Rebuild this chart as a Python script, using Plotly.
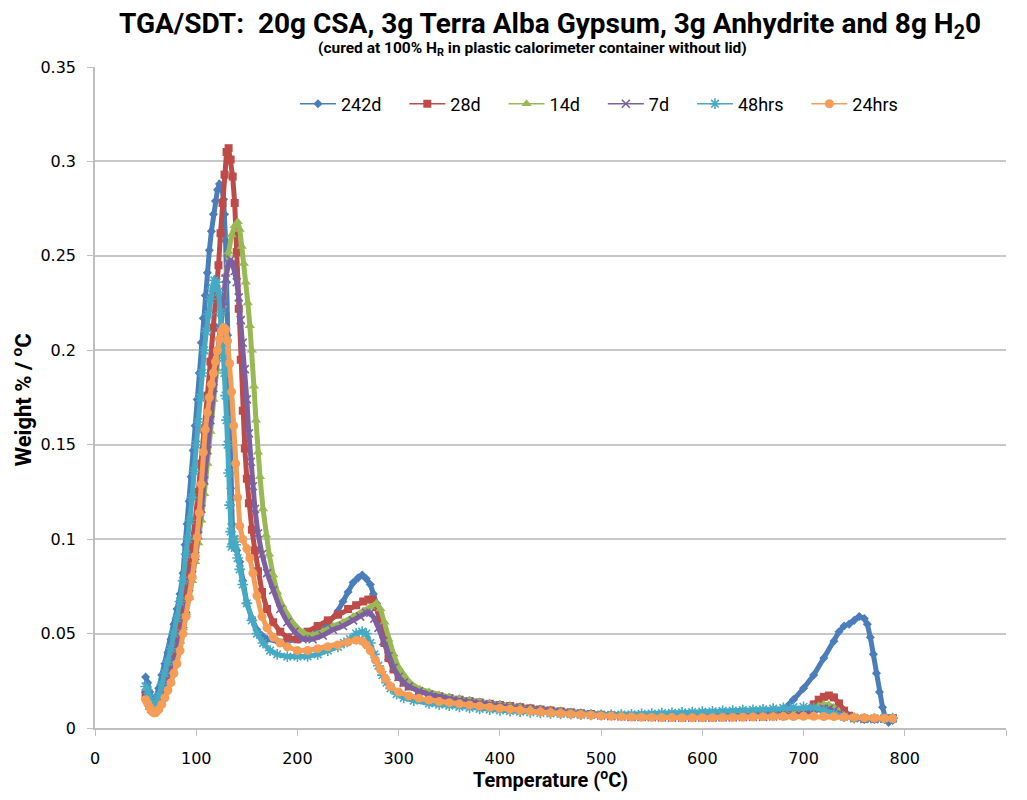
import plotly.graph_objects as go

# ---------------- data ----------------
series_names = ["242d", "28d", "14d", "7d", "48hrs", "24hrs"]

t_242d = [50,52,54,56,58,60,63,66,69,72,75,78,81,84,87,89,91,93,95,97,99,101,103,105,107,109,111,113,115,117,119,121,123,125,127,128,129,130,131,132,133,134,135,136,138,140,143,146,150,155,160,165,170,180,190,200,210,220,230,240,245,250,255,260,264,268,272,275,278,281,285,290,295,300,310,320,330,340,350,360,370,380,390,400,410,420,430,440,450,460,470,480,490,500,510,520,530,540,550,560,570,580,590,600,610,620,630,640,650,660,670,680,690,700,710,720,730,735,740,745,750,755,760,763,766,769,772,775,778,781,784,788]
v_242d = [0.027,0.024,0.019,0.016,0.015,0.016,0.021,0.028,0.034,0.040,0.047,0.055,0.063,0.071,0.082,0.097,0.108,0.120,0.133,0.147,0.160,0.174,0.188,0.204,0.217,0.229,0.241,0.253,0.263,0.272,0.279,0.285,0.288,0.287,0.280,0.272,0.258,0.236,0.208,0.180,0.152,0.127,0.108,0.099,0.096,0.094,0.088,0.078,0.066,0.058,0.052,0.049,0.047,0.046,0.046,0.047,0.048,0.051,0.055,0.062,0.067,0.072,0.077,0.0795,0.081,0.079,0.076,0.071,0.066,0.061,0.051,0.040,0.033,0.028,0.023,0.020,0.0185,0.0172,0.0162,0.0153,0.0145,0.0137,0.0130,0.0124,0.0118,0.0112,0.0106,0.0100,0.0095,0.0090,0.0085,0.0080,0.0076,0.0072,0.0069,0.0066,0.0064,0.0063,0.0062,0.0062,0.0062,0.0062,0.0062,0.0063,0.0064,0.0065,0.0066,0.0068,0.0071,0.0075,0.0082,0.0100,0.0150,0.0210,0.0280,0.0370,0.0460,0.0510,0.0540,0.0550,0.0570,0.0590,0.0580,0.0550,0.0480,0.0390,0.0290,0.0190,0.0110,0.0050,0.0030,0.0040]

t_28d = [50,52,54,56,58,60,63,66,69,72,75,78,81,84,87,90,93,96,99,102,105,108,111,114,117,120,122,124,126,128,130,132,134,136,138,140,142,144,146,148,150,152,155,158,161,165,170,176,183,190,200,210,220,230,240,250,258,265,270,274,278,282,286,290,295,300,305,310,320,330,340,350,360,370,380,390,400,410,420,430,440,450,460,470,480,490,500,510,520,530,540,550,560,570,580,590,600,610,620,630,640,650,660,670,680,690,700,710,715,720,725,730,735,740,745,750,760,770,780,788]
v_28d = [0.018,0.015,0.012,0.010,0.0095,0.010,0.013,0.017,0.022,0.027,0.033,0.040,0.048,0.056,0.065,0.075,0.086,0.097,0.110,0.125,0.140,0.158,0.176,0.194,0.212,0.232,0.245,0.262,0.278,0.293,0.305,0.307,0.301,0.292,0.278,0.252,0.222,0.195,0.168,0.148,0.132,0.119,0.105,0.094,0.083,0.072,0.063,0.056,0.051,0.048,0.047,0.051,0.054,0.057,0.060,0.063,0.065,0.067,0.068,0.068,0.064,0.055,0.045,0.037,0.031,0.027,0.024,0.022,0.0195,0.0180,0.0168,0.0158,0.0150,0.0142,0.0135,0.0128,0.0122,0.0116,0.0110,0.0104,0.0098,0.0093,0.0088,0.0083,0.0078,0.0074,0.0070,0.0067,0.0065,0.0063,0.0062,0.0061,0.0060,0.0060,0.0060,0.0060,0.0060,0.0060,0.0061,0.0062,0.0063,0.0064,0.0066,0.0069,0.0072,0.0078,0.0092,0.0125,0.0150,0.0165,0.0172,0.0162,0.0130,0.0092,0.0065,0.0052,0.0048,0.0048,0.0050,0.0052]

t_14d = [50,52,54,56,58,60,63,66,69,72,75,78,81,84,87,90,93,96,99,102,105,108,111,114,117,120,123,126,129,132,135,138,141,143,145,147,149,151,153,155,157,159,161,163,166,169,172,176,180,185,190,195,200,207,215,225,235,245,255,265,272,278,282,286,290,295,300,305,311,321,330,340,350,360,370,380,390,400,410,420,430,440,450,460,470,480,490,500,510,520,530,540,550,560,570,580,590,600,610,620,630,640,650,660,670,680,690,700,710,715,720,725,730,735,740,750,760,770,780,788]
v_14d = [0.016,0.014,0.011,0.0095,0.009,0.0095,0.012,0.015,0.019,0.023,0.028,0.034,0.040,0.046,0.053,0.061,0.069,0.078,0.088,0.098,0.110,0.124,0.140,0.157,0.174,0.190,0.207,0.224,0.240,0.252,0.261,0.266,0.268,0.264,0.255,0.246,0.236,0.225,0.213,0.200,0.181,0.163,0.146,0.133,0.116,0.102,0.092,0.081,0.072,0.065,0.060,0.056,0.053,0.050,0.049,0.051,0.054,0.056,0.059,0.062,0.064,0.066,0.063,0.056,0.047,0.039,0.032,0.028,0.024,0.0205,0.0190,0.0175,0.0163,0.0153,0.0145,0.0137,0.0129,0.0122,0.0115,0.0108,0.0102,0.0097,0.0092,0.0087,0.0082,0.0077,0.0073,0.0070,0.0067,0.0064,0.0062,0.0061,0.0060,0.0059,0.0058,0.0058,0.0058,0.0058,0.0058,0.0059,0.0059,0.0060,0.0061,0.0063,0.0065,0.0068,0.0074,0.0085,0.0105,0.0118,0.0125,0.0122,0.0110,0.0085,0.0065,0.0053,0.0048,0.0048,0.0050,0.0052]

t_7d = [50,52,54,56,58,60,63,66,69,72,75,78,81,84,87,90,93,96,99,102,105,108,111,114,117,120,123,126,129,132,134,136,138,140,142,144,146,148,150,152,154,156,158,161,165,170,176,183,190,197,205,215,225,235,245,255,262,268,272,276,280,285,290,295,300,305,310,320,330,340,350,360,370,380,390,400,410,420,430,440,450,460,470,480,490,500,510,520,530,540,550,560,570,580,590,600,610,620,630,640,650,660,670,680,690,700,710,715,720,725,730,735,740,750,760,770,780,788]
v_7d = [0.017,0.015,0.012,0.010,0.0092,0.0097,0.012,0.016,0.020,0.024,0.029,0.035,0.041,0.047,0.055,0.063,0.071,0.081,0.091,0.102,0.116,0.131,0.147,0.163,0.180,0.196,0.212,0.226,0.238,0.246,0.248,0.246,0.242,0.236,0.228,0.216,0.204,0.190,0.174,0.156,0.141,0.128,0.116,0.103,0.092,0.082,0.073,0.063,0.056,0.051,0.047,0.047,0.049,0.052,0.054,0.057,0.059,0.061,0.061,0.058,0.053,0.046,0.038,0.032,0.027,0.024,0.022,0.0195,0.0178,0.0165,0.0155,0.0146,0.0138,0.0131,0.0124,0.0117,0.0110,0.0104,0.0098,0.0093,0.0088,0.0083,0.0078,0.0074,0.0070,0.0066,0.0063,0.0061,0.0059,0.0058,0.0057,0.0056,0.0055,0.0055,0.0055,0.0055,0.0055,0.0056,0.0056,0.0057,0.0058,0.0059,0.0061,0.0064,0.0068,0.0076,0.0090,0.0097,0.0102,0.0101,0.0092,0.0078,0.0065,0.0053,0.0048,0.0047,0.0049,0.0051]

t_48hrs = [50,52,54,56,58,60,63,66,69,72,75,78,81,84,87,90,92,94,96,98,100,102,104,106,108,110,112,114,116,118,120,122,124,125,126,127,128,129,130,131,132,133,134,135,136,137,138,139,141,143,146,150,155,160,166,173,180,190,200,210,220,230,240,246,252,258,264,268,272,276,280,284,288,292,298,305,315,330,340,350,360,370,380,390,400,410,420,430,440,450,460,470,480,490,500,510,520,530,540,550,560,570,580,590,600,610,620,630,640,650,660,670,680,690,700,710,720,730,740,750,760,770,780,788]
v_48hrs = [0.022,0.020,0.016,0.013,0.012,0.013,0.017,0.023,0.029,0.035,0.042,0.050,0.058,0.067,0.078,0.092,0.100,0.110,0.122,0.136,0.150,0.162,0.175,0.188,0.200,0.210,0.219,0.227,0.233,0.237,0.236,0.231,0.220,0.212,0.204,0.196,0.188,0.176,0.163,0.150,0.135,0.118,0.104,0.096,0.097,0.100,0.100,0.097,0.090,0.084,0.076,0.066,0.057,0.050,0.045,0.041,0.039,0.0378,0.0378,0.038,0.039,0.041,0.043,0.045,0.047,0.050,0.051,0.050,0.045,0.039,0.033,0.028,0.024,0.021,0.018,0.016,0.0145,0.0130,0.0124,0.0118,0.0112,0.0107,0.0102,0.0098,0.0094,0.0090,0.0087,0.0083,0.0080,0.0077,0.0075,0.0073,0.0071,0.0070,0.0069,0.0070,0.0071,0.0072,0.0074,0.0076,0.0078,0.0080,0.0082,0.0084,0.0086,0.0088,0.0090,0.0092,0.0094,0.0096,0.0099,0.0102,0.0106,0.0110,0.0112,0.0108,0.0095,0.0075,0.0060,0.0053,0.0050,0.0050,0.0050,0.0052]

t_24hrs = [50,52,54,56,58,60,63,66,69,72,75,78,81,84,87,90,93,96,99,101,103,105,107,109,111,113,115,117,119,121,123,125,127,129,131,133,135,137,139,141,143,146,150,153,156,160,165,170,176,183,190,200,210,220,230,240,250,258,264,268,272,277,282,287,292,300,310,320,330,340,350,360,370,380,390,400,410,420,430,440,450,460,470,480,490,500,510,520,530,540,550,560,570,580,590,600,610,620,630,640,650,660,670,680,690,700,710,720,730,740,750,760,770,780,788]
v_24hrs = [0.015,0.013,0.011,0.009,0.008,0.0082,0.0098,0.0125,0.016,0.020,0.024,0.029,0.034,0.041,0.050,0.059,0.069,0.080,0.091,0.101,0.114,0.129,0.146,0.158,0.167,0.175,0.182,0.188,0.194,0.200,0.206,0.210,0.212,0.211,0.205,0.193,0.178,0.160,0.140,0.122,0.107,0.100,0.095,0.090,0.082,0.070,0.059,0.053,0.048,0.045,0.043,0.041,0.041,0.042,0.043,0.044,0.0455,0.0465,0.046,0.044,0.041,0.036,0.031,0.026,0.022,0.019,0.017,0.0157,0.0148,0.0140,0.0134,0.0128,0.0122,0.0116,0.0110,0.0104,0.0099,0.0094,0.0089,0.0085,0.0081,0.0077,0.0073,0.0070,0.0067,0.0064,0.0062,0.0060,0.0058,0.0057,0.0056,0.0055,0.0055,0.0054,0.0054,0.0054,0.0054,0.0055,0.0056,0.0057,0.0058,0.0059,0.0060,0.0061,0.0061,0.0062,0.0062,0.0061,0.0060,0.0058,0.0056,0.0054,0.0052,0.0051,0.0050]

x_ticks = [0, 100, 200, 300, 400, 500, 600, 700, 800, 900]
y_ticks = [0, 0.05, 0.1, 0.15, 0.2, 0.25, 0.3, 0.35]

# ---------------- styling ----------------
colors = ["#4A7EBB", "#BE4B48", "#98B954", "#7D60A0", "#46AAC5", "#F59D56"]
symbols = ["diamond", "square", "triangle-up", "x-thin", "asterisk", "circle"]
msizes = [7, 8, 9, 8, 9, 9]
legend_pad = "\u00a0" * 4   # extra room after each legend label, as in the original

xs = [t_242d, t_28d, t_14d, t_7d, t_48hrs, t_24hrs]
ys = [v_242d, v_28d, v_14d, v_7d, v_48hrs, v_24hrs]

fig = go.Figure()
for name, x, y, c, s, ms in zip(series_names, xs, ys, colors, symbols, msizes):
    # thick band that imitates the densely overlapping markers of the original
    fig.add_trace(go.Scatter(x=x, y=y, mode="lines", line=dict(color=c, width=5),
                             showlegend=False, hoverinfo="skip", legendgroup=name))
    thin = s in ("x-thin", "asterisk")
    fig.add_trace(go.Scatter(
        x=x, y=y, mode="lines+markers", name=name + legend_pad, legendgroup=name,
        line=dict(color=c, width=1.5),
        marker=dict(symbol=s, size=ms, color=c,
                    line=dict(color=c, width=1.6 if thin else 0)),
    ))

font_main = "Roboto, Arial, sans-serif"
# the page body has an 8px margin: the figure is sized so that it fills the window
fig.update_layout(
    width=1011, height=784,
    paper_bgcolor="white", plot_bgcolor="white",
    margin=dict(l=87, r=13, t=59, b=64, autoexpand=False),
    legend=dict(orientation="h", x=0.2195, y=0.944, xanchor="left", yanchor="middle",
                font=dict(family=font_main, size=18, color="black"),
                bgcolor="rgba(0,0,0,0)", itemwidth=36),
    showlegend=True,
    annotations=[
        dict(text="<b>TGA/SDT:  20g CSA, 3g Terra Alba Gypsum, 3g Anhydrite and 8g H<sub>2</sub>0</b>",
             x=0.4995, y=1.0635, xref="paper", yref="paper", xanchor="center", yanchor="middle",
             showarrow=False, font=dict(family=font_main, size=28, color="black")),
        dict(text="<b>(cured at 100% H<sub>R</sub> in plastic calorimeter container without lid)</b>",
             x=0.48, y=1.0275, xref="paper", yref="paper", xanchor="center", yanchor="middle",
             showarrow=False, font=dict(family=font_main, size=15.5, color="black")),
        dict(text="<b>Temperature (<sup>o</sup>C)</b>",
             x=0.5005, y=-0.0765, xref="paper", yref="paper", xanchor="center", yanchor="middle",
             showarrow=False, font=dict(family=font_main, size=20, color="black")),
        dict(text="<b>Weight % / <sup>o</sup>C</b>", textangle=-90,
             x=-0.0801, y=0.496, xref="paper", yref="paper", xanchor="center", yanchor="middle",
             showarrow=False, font=dict(family=font_main, size=22, color="black")),
    ],
)
fig.update_xaxes(
    range=[0, 900], tickvals=x_ticks, showgrid=False, automargin=False,
    showline=True, linecolor="#BFBFBF", linewidth=1.5,
    ticks="outside", ticklen=6, tickcolor="#BFBFBF", ticklabelstandoff=9,
    tickfont=dict(family="DejaVu Sans", size=16, color="black"),
    zeroline=False,
)
fig.update_yaxes(
    range=[0, 0.35], tickvals=y_ticks, showgrid=True, gridcolor="#C8C8C8", gridwidth=1.5,
    automargin=False,
    showline=True, linecolor="#BFBFBF", linewidth=1.5,
    ticks="outside", ticklen=6, tickcolor="#BFBFBF", ticklabelstandoff=8,
    tickfont=dict(family="DejaVu Sans", size=16, color="black"),
    zeroline=False,
)

fig.write_html("out.html")
